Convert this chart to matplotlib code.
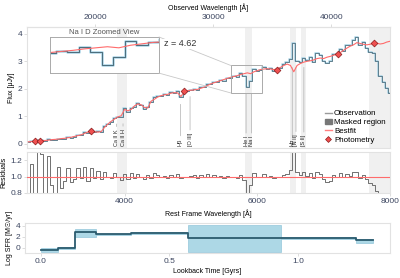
import numpy as np
import matplotlib
matplotlib.use("Agg")
from matplotlib import pyplot as plt
from matplotlib.patches import Rectangle, ConnectionPatch, Patch
from matplotlib.lines import Line2D

plt.rcParams['font.family'] = ['Liberation Sans', 'DejaVu Sans']

z = 4.62

# rest-frame wavelength grid of the spectrum [A]
wave = [2550, 2600, 2650, 2700, 2750, 2800, 2850, 2900, 2950, 3000,
        3050, 3100, 3150, 3200, 3250, 3300, 3350, 3400, 3450, 3500,
        3550, 3600, 3650, 3700, 3750, 3800, 3850, 3900, 3950, 4000,
        4050, 4100, 4150, 4200, 4250, 4300, 4350, 4400, 4450, 4500,
        4550, 4600, 4650, 4700, 4750, 4800, 4850, 4900, 4950, 5000,
        5050, 5100, 5150, 5200, 5250, 5300, 5350, 5400, 5450, 5500,
        5550, 5600, 5650, 5700, 5750, 5800, 5850, 5900, 5950, 6000,
        6050, 6100, 6150, 6200, 6250, 6300, 6350, 6400, 6450, 6500,
        6550, 6600, 6650, 6700, 6750, 6800, 6850, 6900, 6950, 7000,
        7050, 7100, 7150, 7200, 7250, 7300, 7350, 7400, 7450, 7500,
        7550, 7600, 7650, 7700, 7750, 7800, 7850, 7900, 7950, 8000]

# best-fit model flux [uJy]
bestfit = [0.07, 0.08, 0.09, 0.10, 0.11, 0.12, 0.13, 0.15, 0.16, 0.17,
           0.19, 0.20, 0.22, 0.24, 0.27, 0.30, 0.33, 0.38, 0.43, 0.46,
           0.44, 0.42, 0.45, 0.60, 0.72, 0.82, 0.90, 0.98, 1.02, 1.25,
           1.20, 1.25, 1.38, 1.45, 1.42, 1.32, 1.30, 1.55, 1.62, 1.70,
           1.75, 1.78, 1.80, 1.84, 1.86, 1.85, 1.72, 1.90, 1.93, 1.95,
           1.96, 1.98, 2.02, 2.06, 2.12, 2.18, 2.22, 2.26, 2.30, 2.34,
           2.38, 2.42, 2.45, 2.48, 2.52, 2.55, 2.58, 2.55, 2.62, 2.66,
           2.70, 2.72, 2.73, 2.72, 2.70, 2.72, 2.78, 2.85, 2.90, 2.85,
           2.62, 2.85, 2.92, 2.97, 3.00, 3.02, 3.05, 3.10, 3.12, 3.10,
           3.15, 3.18, 3.22, 3.27, 3.32, 3.40, 3.48, 3.55, 3.60, 3.68,
           3.65, 3.62, 3.60, 3.62, 3.66, 3.66, 3.63, 3.65, 3.70, 3.73]

# observation / bestfit
resid = [0.75, 1.15, 0.75, 1.35, 1.28, 0.75, 1.25, 0.90, 0.75, 1.12,
         0.86, 0.95, 1.10, 0.93, 0.97, 1.10, 0.98, 1.12, 0.95, 1.10,
         0.98, 1.07, 0.97, 1.05, 1.00, 0.98, 1.04, 0.99, 0.96, 1.03,
         0.97, 1.04, 0.98, 1.03, 1.00, 0.97, 1.02, 0.98, 1.04, 1.02,
         0.99, 1.01, 0.98, 1.02, 1.00, 1.03, 0.98, 1.00, 0.99, 1.01,
         1.02, 0.98, 1.02, 1.00, 1.03, 0.99, 1.02, 1.00, 1.01, 0.98,
         1.01, 0.99, 1.00, 0.98, 1.02, 0.96, 0.80, 0.90, 1.04, 0.99,
         1.00, 1.03, 0.99, 1.01, 0.98, 1.00, 0.99, 1.02, 1.03, 1.08,
         1.40, 1.06, 1.02, 1.05, 1.01, 1.04, 0.98, 1.06, 1.03, 0.97,
         0.93, 0.95, 1.02, 1.00, 1.04, 0.99, 1.03, 1.01, 1.05, 1.06,
         0.98, 1.02, 0.97, 0.92, 0.90, 0.82, 0.68, 0.62, 0.55, 0.50]

phot_wave = [2650, 2720, 3500, 4900, 6290, 7220, 7760]
phot_flux = [0.09, 0.10, 0.47, 1.92, 2.67, 3.27, 3.67]

mask_lo = [3880, 5810, 6495, 6660, 7690]
mask_hi = [4030, 5925, 6590, 6740, 8000]

line_names = ['Ca II K', 'Ca II H', 'H\u03b2', '[O III]', 'He I', 'Na I',
              'H\u03b1', '[N II]', '[S II]']
line_wave = [3934, 3969, 4861, 5007, 5876, 5890, 6563, 6583, 6717]
label_shift = [-53, 8, -20, -20, -45, 22, -36, 0, -15]

sfh_edges = [0.0, 0.066, 0.131, 0.215, 0.351, 0.573, 0.935, 1.224, 1.29]
sfh_val = [-0.3, 0.0, 2.9, 2.5, 2.7, 1.8, 1.8, 1.4]
sfh_lo = [-0.7, -0.12, 1.9, 2.35, 2.5, -0.7, 1.65, 0.97]
sfh_hi = [0.05, 0.12, 3.4, 2.6, 2.85, 4.1, 1.95, 1.65]

wave = np.array(wave)
bestfit = np.array(bestfit)
resid = np.array(resid)
obs = bestfit * resid

OBS_LIGHT = '#a9d3e5'
OBS_DARK = '#3c5c6b'
FIT = '#ff6b6b'
SPAN = '#f0f0f0'
TICKC = '#3c4660'


def style(a):
    for sp in a.spines.values():
        sp.set_color('#e2e2e2')
        sp.set_linewidth(0.8)
    a.tick_params(labelsize=6, colors='#cfcfcf', labelcolor=TICKC,
                  length=2, width=0.5, pad=1.5)


fig = plt.figure(figsize=(4, 2.78), dpi=100)
ax = fig.add_axes([0.0675, 0.468, 0.9075, 0.435])
axr = fig.add_axes([0.0675, 0.306, 0.9075, 0.147], sharex=ax)
axs = fig.add_axes([0.0625, 0.09, 0.9125, 0.108])

# main spectrum
for lo, hi in zip(mask_lo, mask_hi):
    ax.axvspan(lo, hi, color=SPAN, lw=0, zorder=0)
    axr.axvspan(lo, hi, color=SPAN, lw=0, zorder=0)
ax.step(wave, obs, where='mid', color=OBS_LIGHT, lw=1.1, zorder=2)
ax.step(wave, obs, where='mid', color=OBS_DARK, lw=0.5, zorder=3)
ax.plot(wave, bestfit, color=FIT, lw=0.8, zorder=4)
ax.scatter(phot_wave, phot_flux, marker='D', s=12, c='#f05050',
           edgecolors='#8b1a1a', linewidths=0.5, zorder=5)

for name, w, s in zip(line_names, line_wave, label_shift):
    near = np.abs(wave - w) <= 50
    ytop = obs[near].min() - 0.25
    ax.annotate(name, xy=(w + s, ytop), xytext=(w + s, -0.08),
                rotation=90, ha='center', va='bottom', fontsize=4,
                color='#222222',
                arrowprops=dict(arrowstyle='-', color='#b0b0b0', lw=0.5,
                                shrinkA=0, shrinkB=0))

ax.set_xlim(2530, 8000)
ax.set_ylim(-0.15, 4.25)
ax.set_yticks([0, 1, 2, 3, 4])
ax.set_ylabel('Flux [\u03bcJy]', fontsize=5, labelpad=2)
style(ax)
ax.tick_params(axis='x', labelbottom=False, length=0)

sec = ax.secondary_xaxis('top', functions=(lambda x: x * (1 + z),
                                           lambda x: x / (1 + z)))
sec.set_xticks([20000, 30000, 40000])
sec.set_xlabel('Observed Wavelength [\u00c5]', fontsize=5, labelpad=3)
sec.tick_params(labelsize=6, colors='#cfcfcf', labelcolor=TICKC,
                length=2.5, width=0.5, pad=1.5)
for sp in sec.spines.values():
    sp.set_color('#e2e2e2')

handles = [Line2D([], [], color='#9a9a9a', lw=1),
           Patch(color='#777777'),
           Line2D([], [], color='#ff8080', lw=1),
           Line2D([], [], color='#f05050', marker='D', ms=3, lw=0,
                  markeredgecolor='#8b1a1a', markeredgewidth=0.5)]
ax.legend(handles, ['Observation', 'Masked region', 'Bestfit', 'Photometry'],
          loc='lower right', frameon=False, fontsize=5.7, handlelength=0.8,
          handletextpad=0.3, labelspacing=0.15, borderaxespad=0.15)

# zoomed inset around Na I D
zx = (5600, 6075)
zy = (1.85, 2.85)
axi = fig.add_axes([0.125, 0.737, 0.2725, 0.13])
axi.step(wave, obs, where='mid', color=OBS_LIGHT, lw=1.8)
axi.step(wave, obs, where='mid', color=OBS_DARK, lw=0.6)
axi.plot(wave, bestfit, color=FIT, lw=0.8)
axi.set_xlim(*zx)
axi.set_ylim(*zy)
axi.set_xticks([])
axi.set_yticks([])
for sp in axi.spines.values():
    sp.set_color('#aaaaaa')
    sp.set_linewidth(0.7)
axi.set_title('Na I D Zoomed View', fontsize=5.5, color='#555555', pad=2)

ax.add_patch(Rectangle((zx[0], zy[0]), zx[1] - zx[0], zy[1] - zy[0],
                       fill=False, ec='#aaaaaa', lw=0.7, zorder=6))
for corner, yy in [((1, 1), zy[1]), ((1, 0), zy[0])]:
    con = ConnectionPatch(xyA=corner, coordsA=axi.transAxes,
                          xyB=(zx[0], yy), coordsB=ax.transData,
                          color='#c8c8c8', lw=0.6)
    fig.add_artist(con)
fig.text(0.41, 0.842, 'z = 4.62', fontsize=6.5, color='#333333',
         va='center', ha='left',
         bbox=dict(facecolor='white', edgecolor='none', pad=0.5))

# residuals
axr.step(wave, resid, where='mid', color='#707070', lw=0.7, zorder=2)
axr.axhline(1.0, color=FIT, lw=0.8, zorder=3)
axr.set_ylim(0.8, 1.3)
axr.set_yticks([0.8, 1.0, 1.2])
axr.set_yticklabels(['0.8', '1.0', '1.2'])
axr.set_xticks([4000, 6000, 8000])
axr.set_ylabel('Residuals', fontsize=5, labelpad=2)
axr.set_xlabel('Rest Frame Wavelength [\u00c5]', fontsize=5, labelpad=3)
style(axr)

# star formation history
left = sfh_edges[:-1]
widths = np.diff(sfh_edges)
axs.bar(left, np.array(sfh_hi) - np.array(sfh_lo), width=widths,
        bottom=sfh_lo, align='edge', color='#add8e6', edgecolor='#94c7da',
        lw=0.5, zorder=1)
axs.step(sfh_edges, sfh_val + [sfh_val[-1]], where='post', color='#2b5b6e',
         lw=1.3, zorder=2)
axs.set_xlim(-0.062, 1.358)
axs.set_ylim(-0.9, 4.5)
axs.set_yticks([0, 2, 4])
axs.set_xticks([0.0, 0.5, 1.0])
axs.set_xticklabels(['0.0', '0.5', '1.0'])
axs.set_xlabel('Lookback Time [Gyrs]', fontsize=5, labelpad=2)
axs.set_ylabel('Log SFR [M\u2609/yr]', fontsize=5, labelpad=2)
style(axs)

fig.savefig('out.png', dpi=100)
